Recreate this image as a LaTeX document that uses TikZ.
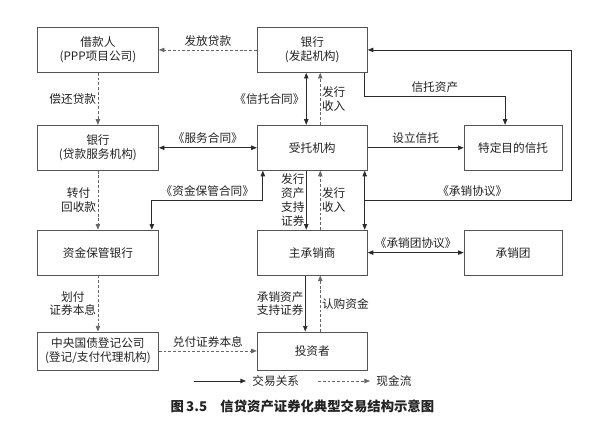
\documentclass[tikz,border=0pt]{standalone}
\usepackage{fontspec}
\newfontfamily\cjk{Noto Sans CJK SC}
\usepackage{xcolor}
\definecolor{LineInk}{HTML}{2B2B2B}
\definecolor{CashInk}{HTML}{666666}
\definecolor{BoxEdge}{HTML}{555555}
\definecolor{TextInk}{HTML}{222222}
\usepackage{tikz}
\usetikzlibrary{positioning, arrows.meta, calc}

\begin{document}
\begin{tikzpicture}[
    >={Triangle[length=1.4mm, width=1.1mm]}, node distance=13mm and 24.5mm,
    box/.style={draw=BoxEdge, line width=0.6pt, align=center, font=\cjk\fontsize{8.3}{9.8}\selectfont, text=TextInk, inner sep=2pt, minimum height=11.25mm},
    leftbox/.style={box, minimum width=30.25mm},
    midbox/.style={box, minimum width=27.5mm},
    rightbox/.style={box, minimum width=24.5mm},
    deal/.style={->, line width=0.5pt, LineInk},
    cash/.style={->, line width=0.5pt, CashInk, dash pattern=on 2pt off 1.4pt},
    lab/.style={font=\cjk\fontsize{8.3}{9.8}\selectfont, text=TextInk, inner sep=1pt, align=center}
]
\useasboundingbox (0,0) rectangle (150mm,-107mm);
\node[leftbox, anchor=north west] (borrower) at (9.25mm,-6.75mm) {借款人\\(PPP项目公司)};
\node[midbox, right=24.5mm of borrower] (originator) {银行\\(发起机构)};
\node[leftbox, below=13mm of borrower] (servicer) {银行\\(贷款服务机构)};
\node[midbox, below=13mm of originator] (trustee) {受托机构};
\node[rightbox, right=24mm of trustee] (spv) {特定目的信托};
\node[leftbox, below=14.75mm of servicer] (custodian) {资金保管银行};
\node[midbox, below=14.75mm of trustee] (lead) {主承销商};
\node[rightbox, right=24mm of lead] (syndicate) {承销团};
\node[leftbox, below=14mm of custodian, minimum height=9.5mm] (registry) {中央国债登记公司\\(登记/支付代理机构)};
\node[midbox, below=14mm of lead, minimum height=9.5mm] (investor) {投资者};
\draw[cash] (originator) -- node[lab, above=1.5pt] {发放贷款} (borrower);
\draw[cash] (borrower) -- node[lab, left] {偿还贷款} (servicer);
\draw[deal, <->] (servicer) -- node[lab, above=1.5pt] {《服务合同》} (trustee);
\draw[cash] (servicer) -- node[lab, left] {转付\\回收款} (custodian);
\draw[deal, <->] ([xshift=-1.75mm]custodian.north east) -- ++(0,7.25mm) -| node[lab, above=1.5pt, pos=0.25] {《资金保管合同》} ([xshift=1.5mm]trustee.south west);
\draw[deal, <->] ([xshift=-1.5mm]originator.south) -- node[lab, left] {《信托合同》} ([xshift=-1.5mm]trustee.north);
\draw[cash] ([xshift=2mm]trustee.north) -- node[lab, right] {发行\\收入} ([xshift=2mm]originator.south);
\draw[deal] ([xshift=-0.75mm]originator.south east) -- ++(0,-6mm) -| node[lab, above=1.5pt, pos=0.25] {信托资产} ([xshift=-2mm]spv.north);
\draw[deal] (trustee) -- node[lab, above=1.5pt] {设立信托} (spv);
\draw[deal] ([xshift=-1.5mm]trustee.south) -- node[lab, left] {发行\\资产\\支持\\证券} ([xshift=-1.5mm]lead.north);
\draw[cash] ([xshift=2mm]lead.north) -- node[lab, right] {发行\\收入} ([xshift=2mm]trustee.south);
\draw[deal, <->] ([xshift=-0.75mm]trustee.south east) -- ([xshift=-0.75mm]lead.north east);
\coordinate (split) at ($([xshift=-0.75mm]trustee.south east)!0.5!([xshift=-0.75mm]lead.north east)$);
\draw[deal] (split) -- node[lab, above=1.5pt, pos=0.52] {《承销协议》} ++(51.75mm,0) |- (originator.east);
\draw[deal, <->] (lead) -- node[lab, above=1.5pt] {《承销团协议》} (syndicate);
\draw[deal] ([xshift=-1.75mm]lead.south) -- node[lab, left] {承销资产\\支持证券} ([xshift=-1.75mm]investor.north);
\draw[cash] ([xshift=2mm]investor.north) -- node[lab, right] {认购资金} ([xshift=2mm]lead.south);
\draw[cash] (custodian) -- node[lab, left] {划付\\证券本息} (registry);
\draw[cash] (registry) -- node[lab, above=1.5pt] {兑付证券本息} (investor);
\coordinate (dealtail) at (48.5mm,-95.25mm);
\coordinate[right=13mm of dealtail] (dealtip);
\node[lab, right=1.2mm of dealtip] (dealkey) {交易关系};
\draw[deal] (dealtail) -- (dealtip);
\coordinate (cashtail) at (79.5mm,-95.25mm);
\coordinate[right=13mm of cashtail] (cashtip);
\node[lab, right=1.2mm of cashtip] (cashkey) {现金流};
\draw[cash] (cashtail) -- (cashtip);
\node[font=\cjk\bfseries\fontsize{9.5}{11}\selectfont, text=TextInk] (caption) at (75.6mm,-101.5mm) {图\,3.5\quad 信贷资产证券化典型交易结构示意图};
\end{tikzpicture}
\end{document}
